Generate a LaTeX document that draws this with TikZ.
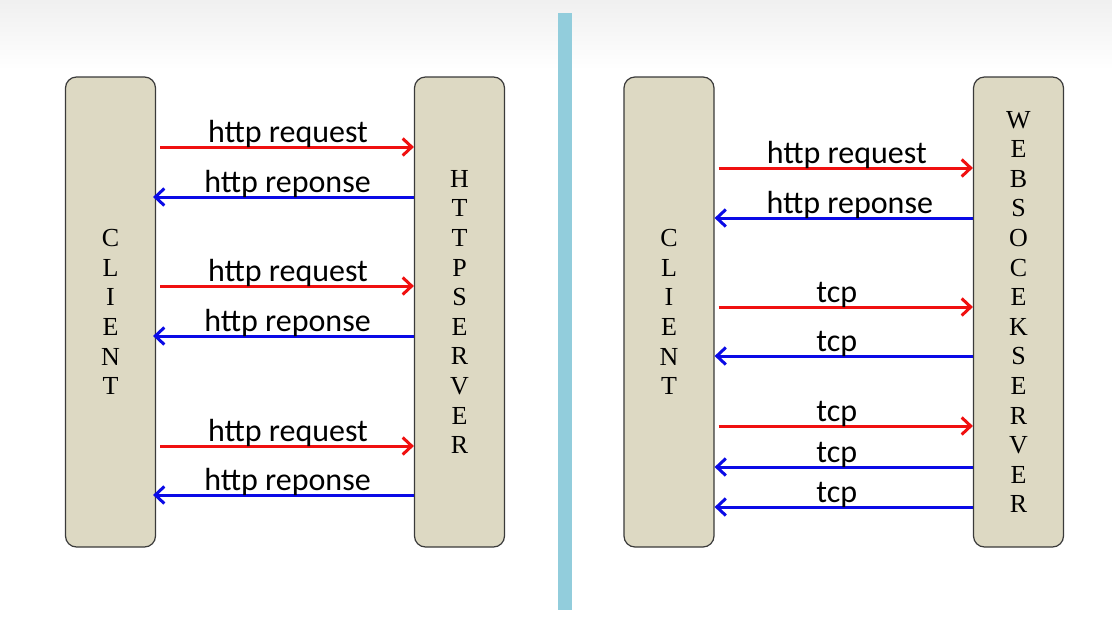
\documentclass[tikz,border=0pt]{standalone}
\usepackage{fontspec}
\usetikzlibrary{arrows.meta}
\newfontfamily\letterfont{Liberation Serif}
\newfontfamily\labelfont{Carlito}
\definecolor{boxfill}{HTML}{DDD9C3}
\definecolor{boxline}{HTML}{3A3A3A}
\definecolor{divider}{HTML}{92CDDC}
\definecolor{reqred}{HTML}{F01010}
\definecolor{resblue}{HTML}{0A0AE6}
\tikzset{
  party/.style={draw=boxline, line width=1.2pt, fill=boxfill, rounded corners=11pt,
    minimum width=90pt, minimum height=470pt, inner sep=0pt, align=center,
    font=\letterfont\fontsize{26}{29.6}\selectfont},
  req/.style={draw=reqred, line width=3pt, -{Straight Barb[length=9pt,width=17pt]}},
  res/.style={draw=resblue, line width=3pt, -{Straight Barb[length=9pt,width=17pt]}},
  lbl/.style={font=\labelfont\fontsize{32}{36}\selectfont, text=black, inner sep=0pt, anchor=south, yshift=-2pt}
}
\begin{document}
\begin{tikzpicture}[x=1pt,y=-1pt]
\useasboundingbox (0,0) rectangle (1112,630);
\fill[white] (0,0) rectangle (1112,630);
\shade[top color=black!6, bottom color=white] (0,0) rectangle (1112,70);
\fill[divider] (558,13) rectangle (572,610);

\node[party] (cl) at (110.5,312) {C\\L\\I\\E\\N\\T};
\node[party] (hs) at (459.5,312) {H\\T\\T\\P\\S\\E\\R\\V\\E\\R};
\node[party] (cr) at (669,312) {C\\L\\I\\E\\N\\T};
\node[party] (ws) at (1018.5,312) {W\\E\\B\\S\\O\\C\\E\\K\\S\\E\\R\\V\\E\\R};

% left: http
\draw[req, shorten <=4pt] ([yshift=165pt]cl.east) -- node[lbl, xshift=3pt]{http request} ([yshift=165pt]hs.west);
\draw[res] ([yshift=115pt]hs.west) -- node[lbl, xshift=4pt]{http reponse} ([yshift=115pt,xshift=-3pt]cl.east);
\draw[req, shorten <=4pt] ([yshift=26pt]cl.east) -- node[lbl, xshift=3pt]{http request} ([yshift=26pt]hs.west);
\draw[res] ([yshift=-24pt]hs.west) -- node[lbl, xshift=4pt]{http reponse} ([yshift=-24pt,xshift=-3pt]cl.east);
\draw[req, shorten <=4pt] ([yshift=-134pt]cl.east) -- node[lbl, xshift=3pt]{http request} ([yshift=-134pt]hs.west);
\draw[res] ([yshift=-183pt]hs.west) -- node[lbl, xshift=4pt]{http reponse} ([yshift=-183pt,xshift=-3pt]cl.east);

% right: websocket
\draw[req, shorten <=4pt] ([yshift=144pt]cr.east) -- node[lbl, xshift=3pt]{http request} ([yshift=144pt]ws.west);
\draw[res] ([yshift=94pt]ws.west) -- node[lbl, xshift=6pt]{http reponse} ([yshift=94pt]cr.east);
\draw[req, shorten <=4pt] ([yshift=5pt]cr.east) -- node[lbl, xshift=-7pt]{tcp} ([yshift=5pt]ws.west);
\draw[res] ([yshift=-44pt]ws.west) -- node[lbl, xshift=-7pt]{tcp} ([yshift=-44pt]cr.east);
\draw[req, shorten <=4pt] ([yshift=-114pt]cr.east) -- node[lbl, xshift=-7pt]{tcp} ([yshift=-114pt]ws.west);
\draw[res] ([yshift=-155pt]ws.west) -- node[lbl, xshift=-7pt]{tcp} ([yshift=-155pt]cr.east);
\draw[res] ([yshift=-195pt]ws.west) -- node[lbl, xshift=-7pt]{tcp} ([yshift=-195pt]cr.east);
\end{tikzpicture}
\end{document}
